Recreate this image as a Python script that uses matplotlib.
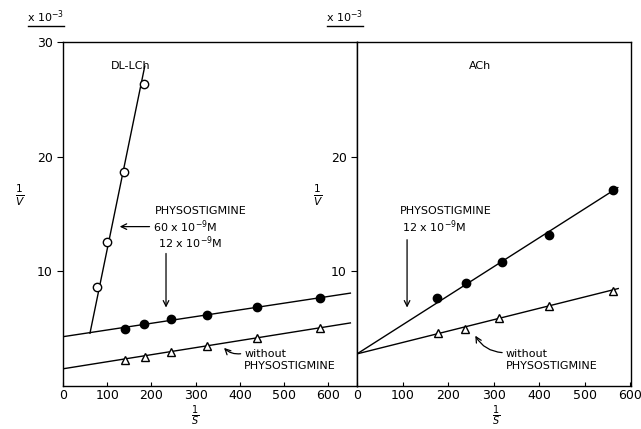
import matplotlib
matplotlib.use('Agg')
import matplotlib.pyplot as plt

plt.rcParams['font.family'] = ['DejaVu Sans']
plt.rcParams['mathtext.fontset'] = 'dejavusans'

# ── left panel: DL-LCh ───────────────────────────────────────────────────────
l_open_x = [77, 100, 138, 183]
l_open_y = [8.6, 12.6, 18.7, 26.3]
l_open_fit_x = [61, 185]
l_open_fit_y = [4.6, 27.9]

l_fill_x = [140, 183, 244, 326, 439, 581]
l_fill_y = [5.0, 5.4, 5.8, 6.2, 6.9, 7.7]
l_fill_fit_x = [0, 650]
l_fill_fit_y = [4.3, 8.1]

l_tri_x = [140, 186, 244, 326, 439, 581]
l_tri_y = [2.3, 2.5, 3.0, 3.5, 4.2, 5.1]
l_tri_fit_x = [0, 650]
l_tri_fit_y = [1.5, 5.5]

# ── right panel: ACh ─────────────────────────────────────────────────────────
r_fill_x = [176, 240, 319, 422, 563]
r_fill_y = [7.7, 9.0, 10.8, 13.2, 17.1]
r_fill_fit_x = [0, 573]
r_fill_fit_y = [2.8, 17.3]

r_tri_x = [178, 237, 312, 422, 563]
r_tri_y = [4.6, 5.0, 5.9, 7.0, 8.3]
r_tri_fit_x = [0, 574]
r_tri_fit_y = [2.8, 8.5]

x_ticks = [0, 100, 200, 300, 400, 500, 600]

fig = plt.figure(figsize=(6.41, 4.29), dpi=100)
axL = fig.add_axes([63 / 641, 1 - 386 / 429, 294 / 641, 344 / 429])
axR = fig.add_axes([357 / 641, 1 - 386 / 429, 274 / 641, 344 / 429])

lw = 1.0
ms = 6
for ax in (axL, axR):
    for s in ax.spines.values():
        s.set_linewidth(1.0)
    ax.set_ylim(0, 30)
    ax.set_xticks(x_ticks)
    ax.tick_params(axis='x', direction='in', length=3, labelsize=9, pad=2)
    ax.tick_params(axis='y', direction='out', length=4, labelsize=9)

axL.set_xlim(0, 665)
axL.set_yticks([10, 20, 30])
axL.set_yticklabels(['10', '20', '30'])
axR.set_xlim(0, 602)
axR.set_yticks([10, 20])
axR.set_yticklabels(['10', '20'])

# left data
axL.plot(l_open_fit_x, l_open_fit_y, color='black', lw=lw)
axL.plot(l_open_x, l_open_y, 'o', mfc='white', mec='black', ms=ms, mew=1)
axL.plot(l_fill_fit_x, l_fill_fit_y, color='black', lw=lw)
axL.plot(l_fill_x, l_fill_y, 'o', color='black', ms=ms)
axL.plot(l_tri_fit_x, l_tri_fit_y, color='black', lw=lw)
axL.plot(l_tri_x, l_tri_y, '^', mfc='white', mec='black', ms=ms, mew=1)

# right data
axR.plot(r_fill_fit_x, r_fill_fit_y, color='black', lw=lw)
axR.plot(r_fill_x, r_fill_y, 'o', color='black', ms=ms)
axR.plot(r_tri_fit_x, r_tri_fit_y, color='black', lw=lw)
axR.plot(r_tri_x, r_tri_y, '^', mfc='white', mec='black', ms=ms, mew=1)

fs = 8
# left annotations
axL.text(152, 27.9, 'DL-LCh', ha='center', va='center', fontsize=fs)
axL.text(208, 15.3, 'PHYSOSTIGMINE', ha='left', va='center', fontsize=fs)
axL.text(204, 13.9, '60 x 10$^{-9}$M', ha='left', va='center', fontsize=fs)
axL.text(215, 12.5, '12 x 10$^{-9}$M', ha='left', va='center', fontsize=fs)
axL.annotate('', xy=(122, 13.9), xytext=(202, 13.9),
             arrowprops=dict(arrowstyle='->', color='black', lw=0.9))
axL.annotate('', xy=(233, 6.6), xytext=(233, 11.8),
             arrowprops=dict(arrowstyle='->', color='black', lw=0.9))
axL.text(410, 2.75, 'without', ha='left', va='center', fontsize=fs)
axL.text(410, 1.75, 'PHYSOSTIGMINE', ha='left', va='center', fontsize=fs)
axL.annotate('', xy=(360, 3.5), xytext=(408, 2.85),
             arrowprops=dict(arrowstyle='->', color='black', lw=0.9,
                             connectionstyle='arc3,rad=-0.3'))

# right annotations
axR.text(270, 27.9, 'ACh', ha='center', va='center', fontsize=fs)
axR.text(95, 15.3, 'PHYSOSTIGMINE', ha='left', va='center', fontsize=fs)
axR.text(99, 13.9, '12 x 10$^{-9}$M', ha='left', va='center', fontsize=fs)
axR.annotate('', xy=(110, 6.6), xytext=(110, 13.0),
             arrowprops=dict(arrowstyle='->', color='black', lw=0.9))
axR.text(327, 2.8, 'without', ha='left', va='center', fontsize=fs)
axR.text(327, 1.75, 'PHYSOSTIGMINE', ha='left', va='center', fontsize=fs)
axR.annotate('', xy=(257, 4.6), xytext=(325, 2.9),
             arrowprops=dict(arrowstyle='->', color='black', lw=0.9,
                             connectionstyle='arc3,rad=-0.3'))

# axis labels and scale markers
fig.text(20 / 641, 1 - 195 / 429, r'$\frac{1}{V}$', ha='center', va='center', fontsize=11)
fig.text(318 / 641, 1 - 195 / 429, r'$\frac{1}{V}$', ha='center', va='center', fontsize=11)
fig.text(195 / 641, 1 - 416 / 429, r'$\frac{1}{S}$', ha='center', va='center', fontsize=10)
fig.text(496 / 641, 1 - 416 / 429, r'$\frac{1}{S}$', ha='center', va='center', fontsize=10)

for cx in (46, 345):
    fig.text(cx / 641, 1 - 17 / 429, 'x 10$^{-3}$', ha='center', va='center', fontsize=8)
    fig.add_artist(plt.Line2D([(cx - 18) / 641, (cx + 18) / 641],
                              [1 - 26 / 429, 1 - 26 / 429], color='black', lw=1.0))

fig.savefig('out.png', dpi=100)
